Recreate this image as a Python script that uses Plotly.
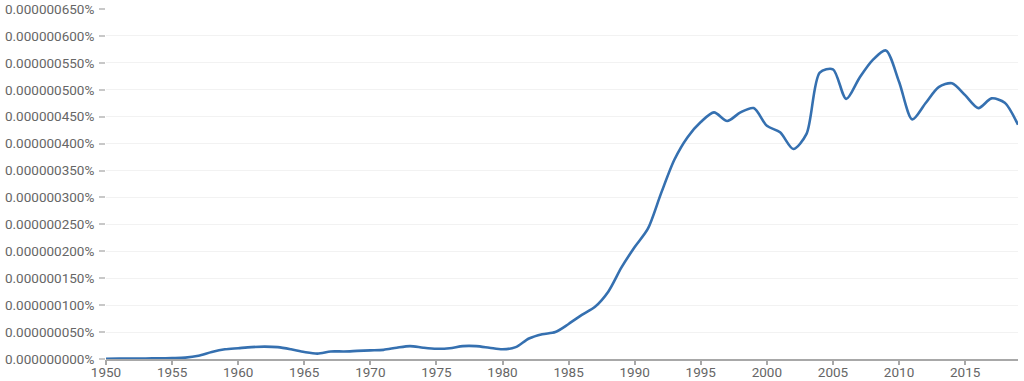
import plotly.graph_objects as go

years = list(range(1950, 2020))
# values in units of 1e-9 percent
values_e9 = [
    0.5, 0.7, 0.8, 1.0, 1.3, 1.7, 2.5, 6, 13, 18,          # 1950-1959
    20, 22, 23, 22, 18, 13, 10, 14, 14, 15,                 # 1960-1969
    16, 17, 21, 24, 21, 19, 20, 24, 24, 21,                 # 1970-1979
    18, 22, 38, 46, 50, 65, 82, 97, 125, 170,               # 1980-1989
    208, 242, 308, 370, 412, 440, 458, 442, 458, 466,       # 1990-1999
    433, 421, 390, 418, 532, 538, 483, 522, 555, 573,       # 2000-2009
    515, 445, 475, 505, 512, 490, 466, 484, 476, 435,       # 2010-2019
]
values_pct = [v * 1e-9 for v in values_e9]

y_ticks = [i * 5e-8 for i in range(14)]
y_tick_labels = ["%.9f%%" % t for t in y_ticks]
x_ticks = list(range(1950, 2020, 5))
x_range = [1950, 2019]

fig = go.Figure()
fig.add_trace(go.Scatter(
    x=years, y=values_pct, mode="lines",
    line=dict(color="#3570b0", width=2.6, shape="spline", smoothing=0.8),
    hoverinfo="x+y", showlegend=False,
))

fig.update_layout(
    width=1024, height=381,
    margin=dict(l=106, r=6, t=9, b=22),
    paper_bgcolor="white", plot_bgcolor="white",
    font=dict(family="Roboto, Arial, sans-serif", color="#666666", size=13),
    xaxis=dict(
        range=x_range, tickvals=x_ticks, ticktext=[str(t) for t in x_ticks],
        showgrid=False, zeroline=False, automargin=False,
        showline=True, linecolor="#a8a8a8", linewidth=2,
        ticks="", tickfont=dict(size=13.5, color="#666666"),
    ),
    xaxis2=dict(
        range=x_range, tickvals=x_ticks, overlaying="x", side="bottom",
        anchor="y", showticklabels=False, showgrid=False, zeroline=False,
        showline=False, automargin=False,
        ticks="outside", ticklen=5, tickcolor="#a8a8a8", tickwidth=1.5,
    ),
    yaxis=dict(
        range=[0, 6.5e-7], tickvals=y_ticks, ticktext=y_tick_labels,
        showgrid=True, gridcolor="#f2f2f2", gridwidth=1, zeroline=False, automargin=False,
        showline=False, ticks="outside", ticklen=6, tickcolor="#c8c8c8", tickwidth=1.5,
        ticklabelstandoff=2, tickfont=dict(size=13.5, color="#666666"),
    ),
)
# invisible trace to activate the tick-mark axis
fig.add_trace(go.Scatter(x=[years[0]], y=[values_pct[0]], xaxis="x2", mode="none",
                         hoverinfo="skip", showlegend=False))

fig.write_html("out.html")
